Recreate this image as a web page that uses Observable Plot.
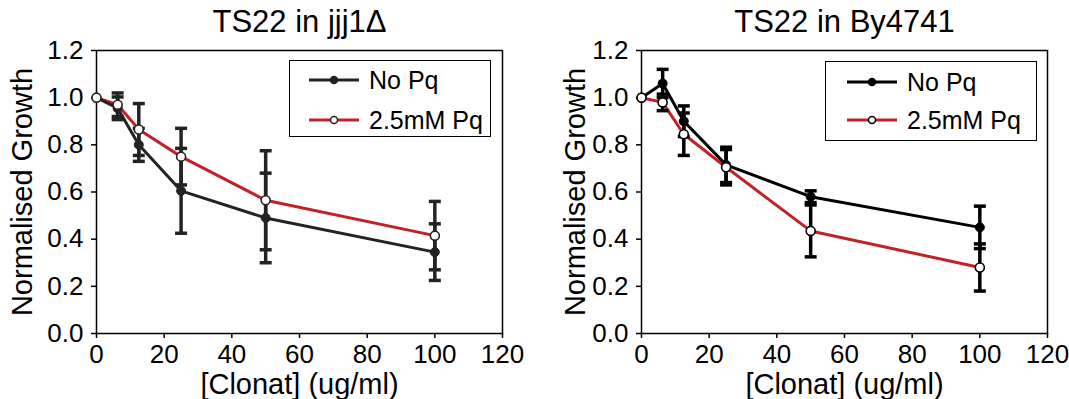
<!DOCTYPE html>
<html><head><meta charset="utf-8">
<script src="https://cdn.jsdelivr.net/npm/d3@7"></script>
<script src="https://cdn.jsdelivr.net/npm/@observablehq/plot@0.6"></script>
<style>
body{margin:0;background:#fff;}
#wrap{position:relative;width:1069px;height:399px;overflow:hidden;font-family:"Liberation Sans",Arial,sans-serif;background:#fff;}
.panel{position:absolute;top:0;}
.legend{position:absolute;border:1.5px solid #000;box-sizing:border-box;background:#fff;}
.row{position:absolute;height:26px;display:flex;align-items:center;font-size:25px;color:#000;white-space:nowrap;}
.row svg{margin-right:10px;}
</style>
</head><body>
<div id="wrap"></div>
<script>
const concentration = [0, 6.25, 12.5, 25, 50, 100];
const seriesNames = ["No Pq", "2.5mM Pq"];
const titles = ["TS22 in jjj1\u0394", "TS22 in By4741"];
const xLabel = "[Clonat] (ug/ml)";
const yLabel = "Normalised Growth";
const xTicks = [0, 20, 40, 60, 80, 100, 120];
const yTicks = [0, 0.2, 0.4, 0.6, 0.8, 1.0, 1.2];

const jjj1NoPq    = [1.0, 0.955, 0.80, 0.605, 0.49, 0.345];
const jjj1NoPqErr = [0, 0.048, 0.07, 0.18, 0.19, 0.12];
const jjj1Pq      = [1.0, 0.97, 0.865, 0.75, 0.565, 0.415];
const jjj1PqErr   = [0, 0.05, 0.11, 0.12, 0.21, 0.145];

const byNoPq    = [1.0, 1.06, 0.90, 0.715, 0.58, 0.45];
const byNoPqErr = [0, 0.06, 0.065, 0.075, 0.025, 0.09];
const byPq      = [1.0, 0.98, 0.845, 0.705, 0.435, 0.28];
const byPqErr   = [0, 0.035, 0.09, 0.075, 0.11, 0.10];

const RED = "#c4202a";
const FONT = "'Liberation Sans', Arial, sans-serif";
const cap = {draw(ctx) { ctx.moveTo(-6, 0); ctx.lineTo(6, 0); }};

function rows(vals, errs) {
  return concentration.map((x, i) => ({x, y: vals[i], lo: vals[i] - errs[i], hi: vals[i] + errs[i], err: errs[i]}));
}

function panel(o) {
  const no = rows(o.noPq, o.noPqErr);
  const pq = rows(o.pq, o.pqErr);
  const errs = [...pq, ...no].filter(d => d.err > 0);
  const dark = o.dark;
  return Plot.plot({
    width: o.width, height: 399,
    marginTop: 50, marginBottom: 66, marginLeft: o.marginLeft, marginRight: o.marginRight,
    style: {fontFamily: FONT, fontSize: "26px", color: "#000", background: "transparent", overflow: "visible"},
    x: {domain: [0, 120]},
    y: {domain: [0, 1.2]},
    marks: [
      Plot.frame({stroke: "#000", strokeWidth: 1.5}),
      Plot.axisX({ticks: xTicks, tickSize: 5, tickPadding: 6, strokeWidth: 1.5, fontSize: 26, label: null, tickFormat: d => String(d)}),
      Plot.axisY({ticks: yTicks, tickSize: 5, tickPadding: 8, strokeWidth: 1.5, fontSize: 26, label: null, tickFormat: d => d.toFixed(1)}),
      Plot.lineY(pq, {x: "x", y: "y", stroke: RED, strokeWidth: 3}),
      Plot.lineY(no, {x: "x", y: "y", stroke: dark, strokeWidth: 3}),
      Plot.ruleX(errs, {x: "x", y1: "lo", y2: "hi", stroke: dark, strokeWidth: 3.5}),
      Plot.dot(errs, {x: "x", y: "lo", symbol: cap, stroke: dark, strokeWidth: 3.5}),
      Plot.dot(errs, {x: "x", y: "hi", symbol: cap, stroke: dark, strokeWidth: 3.5}),
      Plot.dot(no, {x: "x", y: "y", r: 4.5, fill: dark, stroke: dark, strokeWidth: 1}),
      Plot.dot(pq, {x: "x", y: "y", r: 4.5, fill: "#fff", stroke: dark, strokeWidth: 1.6}),
      Plot.text([o.title], {text: d => d, frameAnchor: "top", lineAnchor: "middle", textAnchor: "middle", dy: -28, fontSize: 31}),
      Plot.text([yLabel], {text: d => d, frameAnchor: "left", lineAnchor: "middle", textAnchor: "middle", dx: o.labelDx, rotate: -90, fontSize: 29}),
      Plot.text([xLabel], {text: d => d, frameAnchor: "bottom", lineAnchor: "middle", textAnchor: "middle", dy: 51, fontSize: 29})
    ]
  });
}

function legend(box, dark) {
  const el = document.createElement("div");
  el.className = "legend";
  Object.assign(el.style, {left: box.left + "px", top: box.top + "px", width: box.width + "px", height: box.height + "px"});
  seriesNames.forEach((name, i) => {
    const r = document.createElement("div");
    r.className = "row";
    r.style.left = box.lineLeft + "px";
    r.style.top = (box.rowY[i] - 13) + "px";
    const filled = i === 0;
    const stroke = i === 0 ? dark : RED;
    r.innerHTML = `<svg width="${box.lineW}" height="12"><line x1="0" x2="${box.lineW}" y1="6" y2="6" stroke="${stroke}" stroke-width="3"/>` +
      `<circle cx="${box.lineW/2}" cy="6" r="3.5" fill="${filled ? dark : '#fff'}" stroke="${dark}" stroke-width="1.5"/></svg><span>${name}</span>`;
    el.appendChild(r);
  });
  return el;
}

const wrap = document.getElementById("wrap");
const left = panel({title: titles[0], noPq: jjj1NoPq, noPqErr: jjj1NoPqErr, pq: jjj1Pq, pqErr: jjj1PqErr,
  width: 534, marginLeft: 96, marginRight: 32, dark: "#232323", labelDx: -74});
const right = panel({title: titles[1], noPq: byNoPq, noPqErr: byNoPqErr, pq: byPq, pqErr: byPqErr,
  width: 535, marginLeft: 107, marginRight: 22, dark: "#000", labelDx: -66});
const pl = document.createElement("div"); pl.className = "panel"; pl.style.left = "0px"; pl.appendChild(left);
const pr = document.createElement("div"); pr.className = "panel"; pr.style.left = "534px"; pr.appendChild(right);
wrap.appendChild(pl); wrap.appendChild(pr);

wrap.appendChild(legend({left: 289, top: 60, width: 202, height: 77, lineLeft: 19, lineW: 50, rowY: [19, 59]}, "#232323"));
wrap.appendChild(legend({left: 825, top: 61, width: 212, height: 80, lineLeft: 21, lineW: 50, rowY: [20, 58]}, "#000"));
</script>
</body></html>
